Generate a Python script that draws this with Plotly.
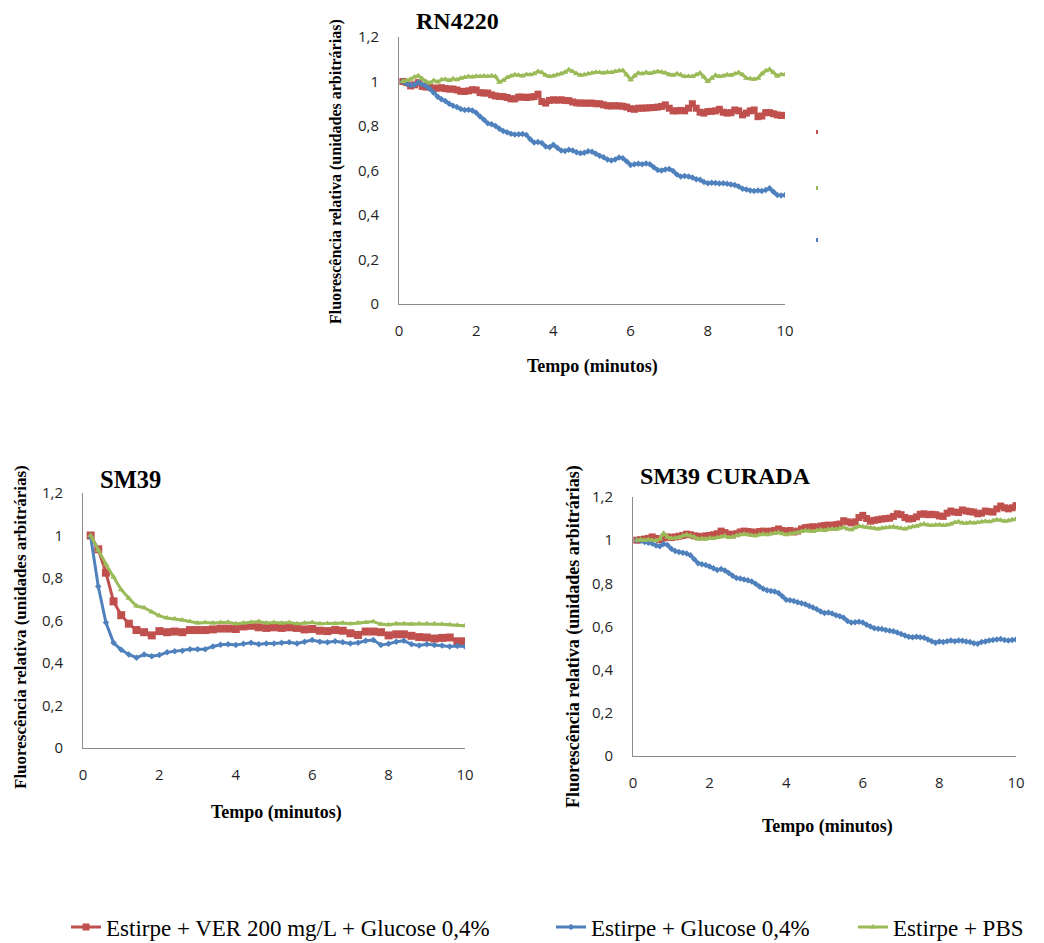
import plotly.graph_objects as go

W, H = 1044, 943

# ---------------- DATA ----------------
t_dense = [round(0.1 * i, 1) for i in range(1, 101)]   # 0.1 .. 10.0 min
t_sm39 = [round(0.2 * i, 1) for i in range(1, 51)]     # 0.2 .. 10.0 min

rn_ver = [1.000, 0.995, 0.980, 0.985, 0.995, 0.978, 0.975, 0.976, 0.970, 0.970,
          0.972, 0.968, 0.966, 0.966, 0.962, 0.956, 0.955, 0.958, 0.963, 0.962,
          0.950, 0.948, 0.948, 0.940, 0.935, 0.933, 0.932, 0.928, 0.922, 0.922,
          0.930, 0.930, 0.928, 0.930, 0.932, 0.943, 0.910, 0.903, 0.915, 0.918,
          0.916, 0.918, 0.915, 0.914, 0.908, 0.904, 0.903, 0.903, 0.902, 0.903,
          0.900, 0.900, 0.895, 0.891, 0.890, 0.891, 0.890, 0.889, 0.885, 0.878,
          0.875, 0.880, 0.880, 0.881, 0.882, 0.883, 0.885, 0.888, 0.895, 0.880,
          0.868, 0.868, 0.870, 0.868, 0.880, 0.900, 0.880, 0.862, 0.858, 0.865,
          0.866, 0.868, 0.875, 0.862, 0.858, 0.860, 0.872, 0.868, 0.850, 0.858,
          0.868, 0.872, 0.842, 0.845, 0.860, 0.860, 0.855, 0.850, 0.847, 0.848]
rn_glu = [1.000, 0.990, 0.983, 0.985, 0.996, 0.988, 0.980, 0.966, 0.950, 0.932,
          0.920, 0.912, 0.900, 0.891, 0.885, 0.876, 0.872, 0.873, 0.870, 0.860,
          0.843, 0.828, 0.812, 0.808, 0.800, 0.788, 0.778, 0.772, 0.765, 0.762,
          0.763, 0.764, 0.760, 0.740, 0.726, 0.728, 0.724, 0.708, 0.705, 0.716,
          0.702, 0.690, 0.688, 0.693, 0.690, 0.682, 0.678, 0.680, 0.686, 0.684,
          0.675, 0.666, 0.660, 0.650, 0.645, 0.650, 0.658, 0.655, 0.640, 0.625,
          0.628, 0.630, 0.628, 0.632, 0.628, 0.615, 0.602, 0.600, 0.605, 0.607,
          0.598, 0.582, 0.573, 0.575, 0.573, 0.568, 0.561, 0.558, 0.548, 0.543,
          0.545, 0.544, 0.542, 0.543, 0.540, 0.537, 0.535, 0.528, 0.518, 0.515,
          0.510, 0.508, 0.510, 0.508, 0.512, 0.520, 0.505, 0.490, 0.488, 0.490]
rn_pbs = [1.000, 1.005, 1.010, 1.020, 1.026, 1.012, 1.000, 0.993, 1.005, 0.998,
          1.008, 1.010, 1.005, 1.012, 1.008, 1.015, 1.018, 1.022, 1.020, 1.024,
          1.022, 1.025, 1.023, 1.026, 1.022, 0.997, 1.005, 1.018, 1.025, 1.030,
          1.028, 1.025, 1.032, 1.030, 1.035, 1.045, 1.040, 1.028, 1.022, 1.025,
          1.030, 1.035, 1.042, 1.053, 1.045, 1.035, 1.028, 1.030, 1.035, 1.038,
          1.042, 1.040, 1.038, 1.042, 1.040, 1.045, 1.048, 1.050, 1.030, 1.008,
          1.025, 1.038, 1.035, 1.040, 1.036, 1.042, 1.045, 1.043, 1.038, 1.030,
          1.028, 1.035, 1.030, 1.022, 1.024, 1.022, 1.030, 1.038, 1.020, 1.000,
          1.015, 1.028, 1.022, 1.025, 1.030, 1.028, 1.035, 1.040, 1.030, 1.015,
          1.012, 1.010, 1.015, 1.035, 1.048, 1.055, 1.040, 1.025, 1.032, 1.030]

sm_ver = [1.000, 0.935, 0.825, 0.690, 0.625, 0.585, 0.555, 0.545, 0.530, 0.550,
          0.545, 0.548, 0.545, 0.555, 0.555, 0.555, 0.558, 0.562, 0.562, 0.560,
          0.572, 0.575, 0.568, 0.565, 0.568, 0.565, 0.568, 0.565, 0.558, 0.560,
          0.552, 0.550, 0.555, 0.552, 0.540, 0.532, 0.548, 0.548, 0.545, 0.530,
          0.535, 0.535, 0.528, 0.522, 0.520, 0.515, 0.518, 0.520, 0.502, 0.502]
sm_glu = [0.995, 0.760, 0.590, 0.495, 0.462, 0.440, 0.425, 0.440, 0.432, 0.438,
          0.450, 0.455, 0.458, 0.465, 0.465, 0.465, 0.478, 0.486, 0.488, 0.485,
          0.490, 0.495, 0.488, 0.492, 0.492, 0.495, 0.498, 0.492, 0.500, 0.508,
          0.500, 0.498, 0.502, 0.498, 0.492, 0.495, 0.505, 0.508, 0.485, 0.490,
          0.500, 0.505, 0.488, 0.482, 0.488, 0.485, 0.482, 0.478, 0.480, 0.478]
sm_pbs = [1.000, 0.930, 0.865, 0.805, 0.745, 0.705, 0.668, 0.660, 0.640, 0.622,
          0.612, 0.608, 0.602, 0.595, 0.588, 0.590, 0.588, 0.590, 0.592, 0.585,
          0.588, 0.592, 0.595, 0.588, 0.590, 0.588, 0.590, 0.585, 0.588, 0.590,
          0.585, 0.586, 0.585, 0.588, 0.585, 0.588, 0.590, 0.595, 0.582, 0.580,
          0.585, 0.585, 0.582, 0.585, 0.585, 0.585, 0.582, 0.580, 0.578, 0.575]

cu_ver = [1.000, 1.002, 1.005, 1.008, 1.015, 1.008, 1.002, 1.010, 1.015, 1.012,
          1.015, 1.018, 1.022, 1.028, 1.025, 1.020, 1.018, 1.015, 1.020, 1.022,
          1.025, 1.030, 1.042, 1.035, 1.028, 1.025, 1.030, 1.038, 1.042, 1.040,
          1.038, 1.035, 1.040, 1.042, 1.040, 1.042, 1.045, 1.052, 1.045, 1.040,
          1.045, 1.038, 1.042, 1.052, 1.058, 1.060, 1.062, 1.060, 1.065, 1.068,
          1.070, 1.068, 1.072, 1.075, 1.090, 1.085, 1.080, 1.085, 1.105, 1.115,
          1.100, 1.088, 1.092, 1.095, 1.098, 1.100, 1.102, 1.110, 1.122, 1.118,
          1.105, 1.098, 1.100, 1.108, 1.120, 1.122, 1.118, 1.120, 1.118, 1.112,
          1.110, 1.125, 1.135, 1.130, 1.128, 1.140, 1.135, 1.132, 1.130, 1.122,
          1.125, 1.135, 1.132, 1.130, 1.145, 1.158, 1.150, 1.145, 1.150, 1.160]
cu_glu = [1.000, 0.998, 0.992, 0.988, 0.985, 0.975, 0.972, 0.982, 0.978, 0.960,
          0.950, 0.945, 0.942, 0.938, 0.930, 0.912, 0.893, 0.888, 0.885, 0.878,
          0.870, 0.862, 0.866, 0.860, 0.848, 0.835, 0.825, 0.822, 0.818, 0.814,
          0.808, 0.798, 0.785, 0.775, 0.768, 0.765, 0.762, 0.755, 0.740, 0.724,
          0.722, 0.718, 0.712, 0.708, 0.703, 0.695, 0.688, 0.680, 0.670, 0.662,
          0.665, 0.660, 0.652, 0.648, 0.640, 0.625, 0.618, 0.620, 0.622, 0.618,
          0.608, 0.600, 0.592, 0.590, 0.588, 0.584, 0.580, 0.578, 0.572, 0.565,
          0.558, 0.552, 0.550, 0.552, 0.550, 0.548, 0.540, 0.532, 0.525, 0.530,
          0.528, 0.532, 0.535, 0.532, 0.535, 0.534, 0.530, 0.528, 0.522, 0.520,
          0.528, 0.530, 0.535, 0.538, 0.540, 0.542, 0.538, 0.535, 0.538, 0.540]
cu_pbs = [1.000, 1.002, 1.000, 1.003, 1.000, 0.998, 1.005, 1.032, 1.015, 1.008,
          1.010, 1.012, 1.020, 1.025, 1.020, 1.015, 1.005, 1.008, 1.005, 1.010,
          1.008, 1.012, 1.015, 1.020, 1.012, 1.015, 1.022, 1.025, 1.028, 1.025,
          1.022, 1.020, 1.025, 1.028, 1.025, 1.030, 1.032, 1.035, 1.030, 1.025,
          1.030, 1.032, 1.035, 1.040, 1.045, 1.042, 1.040, 1.045, 1.048, 1.045,
          1.050, 1.052, 1.050, 1.055, 1.060, 1.052, 1.048, 1.058, 1.065, 1.062,
          1.060, 1.058, 1.055, 1.052, 1.056, 1.058, 1.060, 1.062, 1.058, 1.055,
          1.052, 1.058, 1.062, 1.065, 1.072, 1.075, 1.070, 1.068, 1.070, 1.072,
          1.068, 1.070, 1.075, 1.082, 1.085, 1.080, 1.078, 1.082, 1.080, 1.082,
          1.085, 1.088, 1.085, 1.090, 1.095, 1.092, 1.088, 1.090, 1.095, 1.098]

series_names = ["Estirpe + VER 200 mg/L + Glucose 0,4%",
                "Estirpe + Glucose 0,4%",
                "Estirpe + PBS"]
panel_titles = ["RN4220", "SM39", "SM39 CURADA"]
y_title = "Fluorescência relativa (unidades arbitrárias)"
x_title = "Tempo (minutos)"

# ---------------- STYLE ----------------
RED, BLUE, GREEN = "#C0504D", "#4F81BD", "#9BBB59"
colors = [RED, BLUE, GREEN]
symbols = ["square", "diamond", "triangle-up"]
SERIF = "Liberation Serif"
SANS = "Open Sans"

def px(x):
    return x / W

def py(y):
    return 1 - y / H

fig = go.Figure()

panels = [
    ("x", "y", t_dense, [rn_ver, rn_glu, rn_pbs], [7, 5, 6], True),
    ("x2", "y2", t_sm39, [sm_ver, sm_glu, sm_pbs], [8, 5, 6], False),
    ("x3", "y3", t_dense, [cu_ver, cu_glu, cu_pbs], [7, 5, 6], False),
]
legend_ids = ["legend", "legend2", "legend3"]
for xa, ya, tt, sers, msizes, show in panels:
    for i, vals in enumerate(sers):
        fig.add_trace(go.Scatter(
            x=tt, y=vals, xaxis=xa, yaxis=ya,
            mode="lines+markers", name=series_names[i],
            line=dict(color=colors[i], width=3),
            marker=dict(symbol=symbols[i], size=msizes[i], color=colors[i]),
            showlegend=show, legend=legend_ids[i],
        ))

# plot-area pixel boxes (left, right, top, bottom)
boxes = [(399, 785, 37, 304), (83, 465, 493, 748), (633, 1016, 497, 756)]
axis_common = dict(showgrid=False, zeroline=False, showline=True,
                   linecolor="#8c8c8c", linewidth=1, ticks="", automargin=False,
                   tickfont=dict(family=SANS, size=15, color="#1f1f1f"))
layout_axes = {}
for k, (l, r, t, b) in enumerate(boxes):
    sfx = "" if k == 0 else str(k + 1)
    layout_axes["xaxis" + sfx] = dict(axis_common, domain=[px(l), px(r)],
                                       range=[0, 10], dtick=2, tick0=0,
                                       anchor="y" + sfx, ticklabelstandoff=13)
    layout_axes["yaxis" + sfx] = dict(axis_common, domain=[py(b), py(t)],
                                       range=[0, 1.2], dtick=0.2, tick0=0,
                                       anchor="x" + sfx, ticklabelstandoff=16)

annotations = []
def ann(text, x, y, size, angle=0, bold=True):
    annotations.append(dict(
        text=f"<b>{text}</b>" if bold else text, x=px(x), y=py(y),
        xref="paper", yref="paper", xanchor="center", yanchor="middle",
        showarrow=False, textangle=angle,
        font=dict(family=SERIF, size=size, color="#000000")))

# panel titles
ann(panel_titles[0], 457, 21, 24)
ann(panel_titles[1], 130, 479, 24.5)
ann(panel_titles[2], 725, 476, 24)
# y titles
ann(y_title, 336, 172, 16, -90)
ann(y_title, 20, 627, 17, -90)
ann(y_title, 573, 637, 18, -90)
# x titles
ann(x_title, 592, 366, 18)
ann(x_title, 276, 812, 18)
ann(x_title, 827, 826, 18)

# remnants of a cropped legend to the right of the top chart
shapes = []
for yy, c in [(132, RED), (188, GREEN), (240, BLUE)]:
    shapes.append(dict(type="rect", xref="paper", yref="paper",
                       x0=px(816), x1=px(818), y0=py(yy + 2), y1=py(yy - 2),
                       fillcolor=c, line=dict(width=0)))

leg_font = dict(family=SERIF, size=23, color="#000000")
legend_common = dict(orientation="h", yanchor="middle", xanchor="left",
                     xref="container", yref="container",
                     font=leg_font, bgcolor="rgba(0,0,0,0)", borderwidth=0)

fig.update_layout(
    width=W, height=H, margin=dict(l=0, r=0, t=0, b=0, autoexpand=False),
    paper_bgcolor="white", plot_bgcolor="white",
    separators=",.",
    annotations=annotations, shapes=shapes,
    legend=dict(legend_common, x=px(66), y=py(927)),
    legend2=dict(legend_common, x=px(551), y=py(927)),
    legend3=dict(legend_common, x=px(853), y=py(927)),
    **layout_axes,
)

fig.write_html("out.html")
